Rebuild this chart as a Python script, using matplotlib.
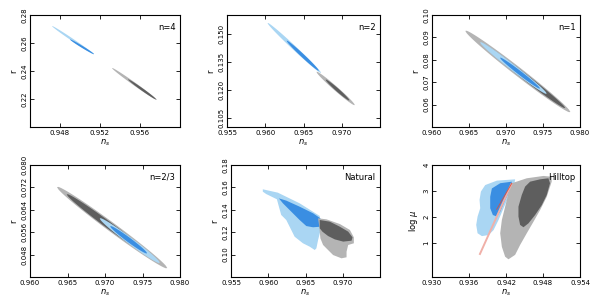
import numpy as np
import matplotlib
matplotlib.use('Agg')
from matplotlib import pyplot as plt

plt.rcParams['font.family'] = ['DejaVu Sans']
plt.rcParams['font.size'] = 5

# colours
LBLUE = '#aad6f3'
DBLUE = '#3a8ee2'
LGRAY = '#b4b4b4'
DGRAY = '#5e5e5e'

# ---- streak panels: (start ns, start r, end ns, end r, half thickness in r)
n4_blue95 = [0.9472, 0.2721, 0.9514, 0.2519, 0.0010]
n4_blue68 = [0.9490, 0.2625, 0.9514, 0.2521, 0.0008]
n4_gray95 = [0.9532, 0.2421, 0.9577, 0.2193, 0.0013]
n4_gray68 = [0.9548, 0.2340, 0.9576, 0.2198, 0.0010]

n2_blue95 = [0.9603, 0.1557, 0.9673, 0.1290, 0.0015]
n2_blue68 = [0.9628, 0.1462, 0.9670, 0.1302, 0.0012]
n2_gray95 = [0.9667, 0.1295, 0.9717, 0.1118, 0.0015]
n2_gray68 = [0.9679, 0.1253, 0.9710, 0.1143, 0.0011]

n1_gray95 = [0.9645, 0.0929, 0.9787, 0.0567, 0.0024]
n1_gray68 = [0.9669, 0.0868, 0.9780, 0.0585, 0.0017]
n1_blue95 = [0.9665, 0.0878, 0.9755, 0.0649, 0.0017]
n1_blue68 = [0.9692, 0.0809, 0.9746, 0.0672, 0.0011]

n23_gray95 = [0.9636, 0.0721, 0.9783, 0.0432, 0.0020]
n23_gray68 = [0.9649, 0.0695, 0.9760, 0.0477, 0.0015]
n23_blue95 = [0.9693, 0.0609, 0.9773, 0.0451, 0.0014]
n23_blue68 = [0.9707, 0.0581, 0.9756, 0.0485, 0.0010]

# ---- Natural inflation regions (ns, r)
nat_blue95_ns = [0.95927, 0.96129, 0.96421, 0.96691, 0.96713, 0.96691, 0.96669, 0.96646, 0.96624,
                 0.96556, 0.96466, 0.96354, 0.96309, 0.96242, 0.96174, 0.96143, 0.96116, 0.95972, 0.95927]
nat_blue95_r = [0.1583, 0.1553, 0.1458, 0.1345, 0.1235, 0.1190, 0.1130, 0.1056, 0.1041,
                0.1071, 0.1101, 0.1160, 0.1220, 0.1309, 0.1354, 0.1428, 0.1494, 0.1541, 0.1562]
nat_blue68_ns = [0.96143, 0.96242, 0.96421, 0.96601, 0.96700, 0.96700, 0.96601, 0.96511, 0.96421,
                 0.96287, 0.96197]
nat_blue68_r = [0.1502, 0.1482, 0.1428, 0.1369, 0.1324, 0.1249, 0.1244, 0.1255, 0.1309, 0.1398, 0.1458]
nat_gray95_ns = [0.96669, 0.96781, 0.96961, 0.97096, 0.97149, 0.97149, 0.97073, 0.97051, 0.97051,
                 0.96983, 0.96871, 0.96803, 0.96736, 0.96700, 0.96691, 0.96682]
nat_gray95_r = [0.1324, 0.1315, 0.1273, 0.1220, 0.1154, 0.1101, 0.1086, 0.1026, 0.0976,
                0.0967, 0.0996, 0.1041, 0.1086, 0.1145, 0.1205, 0.1264]
nat_gray68_ns = [0.96691, 0.96826, 0.96961, 0.97073, 0.97131, 0.97118, 0.97006, 0.96893, 0.96803,
                 0.96727, 0.96691]
nat_gray68_r = [0.1309, 0.1294, 0.1249, 0.1205, 0.1154, 0.1124, 0.1116, 0.1136, 0.1166, 0.1205, 0.1235]

# ---- Hilltop regions (ns, log mu)
hill_lblue_ns = [0.93863, 0.94052, 0.94348, 0.94337, 0.94267, 0.94160, 0.94079, 0.93998, 0.93917,
                 0.93809, 0.93739, 0.93717, 0.93739, 0.93782, 0.93771, 0.93793]
hill_lblue_mu = [3.23, 3.40, 3.45, 3.30, 2.91, 2.34, 1.89, 1.50, 1.31,
                 1.27, 1.38, 1.70, 2.02, 2.34, 2.66, 2.98]
hill_dblue_ns = [0.93971, 0.94106, 0.94294, 0.94267, 0.94186, 0.94106, 0.94052, 0.93987, 0.93944, 0.93944]
hill_dblue_mu = [3.10, 3.30, 3.36, 3.04, 2.66, 2.21, 2.02, 2.08, 2.34, 2.78]
hill_line_ns = [0.93771, 0.94294]
hill_line_mu = [0.55, 3.30]
hill_redline_ns = [0.9405, 0.94294]
hill_redline_mu = [2.30, 3.30]
hill_lgray_ns = [0.94294, 0.94537, 0.94807, 0.94941, 0.94941, 0.94861, 0.94753, 0.94645, 0.94537,
                 0.94429, 0.94348, 0.94240, 0.94186, 0.94133, 0.94106, 0.94133, 0.94186, 0.94240]
hill_lgray_mu = [3.30, 3.49, 3.58, 3.55, 3.36, 2.78, 2.27, 1.82, 1.38,
                 0.93, 0.55, 0.38, 0.48, 0.86, 1.38, 1.89, 2.40, 2.91]
hill_dgray_ns = [0.94591, 0.94753, 0.94888, 0.94914, 0.94861, 0.94780, 0.94672, 0.94564, 0.94483,
                 0.94429, 0.94402, 0.94402, 0.94456, 0.94510]
hill_dgray_mu = [3.36, 3.45, 3.49, 3.30, 2.85, 2.46, 2.08, 1.76, 1.61, 1.70, 2.02, 2.40, 2.85, 3.17]

# ---- axes settings
panels = [
    # label, xlim, xticks, ylim, yticks, tick format, ylabel
    ('n=4', (0.945, 0.960), [0.948, 0.952, 0.956], (0.20, 0.28), [0.22, 0.24, 0.26, 0.28], '%.2f', 'r'),
    ('n=2', (0.955, 0.975), [0.955, 0.960, 0.965, 0.970], (0.10, 0.16), [0.105, 0.120, 0.135, 0.150], '%.3f', 'r'),
    ('n=1', (0.960, 0.980), [0.960, 0.965, 0.970, 0.975, 0.980], (0.05, 0.10), [0.06, 0.07, 0.08, 0.09, 0.10], '%.2f', 'r'),
    ('n=2/3', (0.960, 0.980), [0.960, 0.965, 0.970, 0.975, 0.980], (0.04, 0.08), [0.048, 0.056, 0.064, 0.072, 0.080], '%.3f', 'r'),
    ('Natural', (0.955, 0.975), [0.955, 0.960, 0.965, 0.970], (0.08, 0.18), [0.10, 0.12, 0.14, 0.16, 0.18], '%.2f', 'r'),
    ('Hilltop', (0.930, 0.954), [0.930, 0.936, 0.942, 0.948, 0.954], (-0.3, 4.0), [1, 2, 3, 4], '%d', 'log $\\mu$'),
]
boxes = [(30, 15, 150), (227, 15, 153), (432, 15, 148),
         (30, 165, 150), (231, 165, 149), (432, 165, 148)]


def lens(ax, p, color):
    x0, y0, x1, y1, h = p
    t = np.linspace(0, 1, 80)
    cx = x0 + (x1 - x0) * t
    cy = y0 + (y1 - y0) * t
    w = h * 2 * np.sqrt(t * (1 - t))
    ax.fill(np.r_[cx, cx[::-1]], np.r_[cy + w, (cy - w)[::-1]], color=color, lw=0)


fig = plt.figure(figsize=(6, 2.99), dpi=100)
axes = []
for (lab, xl, xt, yl, yt, fmt, ylab), (l, t, w) in zip(panels, boxes):
    ax = fig.add_axes([l / 600, 1 - (t + 112) / 299, w / 600, 112 / 299])
    ax.set_xlim(xl)
    ax.set_ylim(yl)
    ax.set_xticks(xt)
    ax.set_xticklabels(['%.3f' % v for v in xt])
    ax.set_yticks(yt)
    ax.set_yticklabels([fmt % v for v in yt], rotation=90, va='center')
    ax.tick_params(direction='in', length=3, width=0.6, pad=2, top=True, right=True)
    for s in ax.spines.values():
        s.set_linewidth(0.8)
    ax.set_xlabel('$n_s$', fontsize=6, labelpad=1)
    ax.set_ylabel(ylab, fontsize=6, labelpad=2)
    ax.text(0.97, 0.93, lab, transform=ax.transAxes, ha='right', va='top', fontsize=6)
    axes.append(ax)

# n=4
lens(axes[0], n4_blue95, LBLUE)
lens(axes[0], n4_blue68, DBLUE)
lens(axes[0], n4_gray95, LGRAY)
lens(axes[0], n4_gray68, DGRAY)
# n=2
lens(axes[1], n2_blue95, LBLUE)
lens(axes[1], n2_blue68, DBLUE)
lens(axes[1], n2_gray95, LGRAY)
lens(axes[1], n2_gray68, DGRAY)
# n=1
lens(axes[2], n1_gray95, LGRAY)
lens(axes[2], n1_gray68, DGRAY)
lens(axes[2], n1_blue95, LBLUE)
lens(axes[2], n1_blue68, DBLUE)
# n=2/3
lens(axes[3], n23_gray95, LGRAY)
lens(axes[3], n23_gray68, DGRAY)
lens(axes[3], n23_blue95, LBLUE)
lens(axes[3], n23_blue68, DBLUE)
# natural
axes[4].fill(nat_blue95_ns, nat_blue95_r, color=LBLUE, lw=0)
axes[4].fill(nat_blue68_ns, nat_blue68_r, color=DBLUE, lw=0)
axes[4].fill(nat_gray95_ns, nat_gray95_r, color=LGRAY, lw=0)
axes[4].fill(nat_gray68_ns, nat_gray68_r, color=DGRAY, lw=0)
# hilltop
axes[5].fill(hill_lblue_ns, hill_lblue_mu, color=LBLUE, lw=0)
axes[5].fill(hill_dblue_ns, hill_dblue_mu, color=DBLUE, lw=0)
axes[5].fill(hill_lgray_ns, hill_lgray_mu, color=LGRAY, lw=0)
axes[5].fill(hill_dgray_ns, hill_dgray_mu, color=DGRAY, lw=0)
axes[5].plot(hill_line_ns, hill_line_mu, color='#f0b0a8', lw=1.4, solid_capstyle='butt')
axes[5].plot(hill_redline_ns, hill_redline_mu, color='#d85040', lw=0.6)

fig.savefig('out.png', dpi=100)
